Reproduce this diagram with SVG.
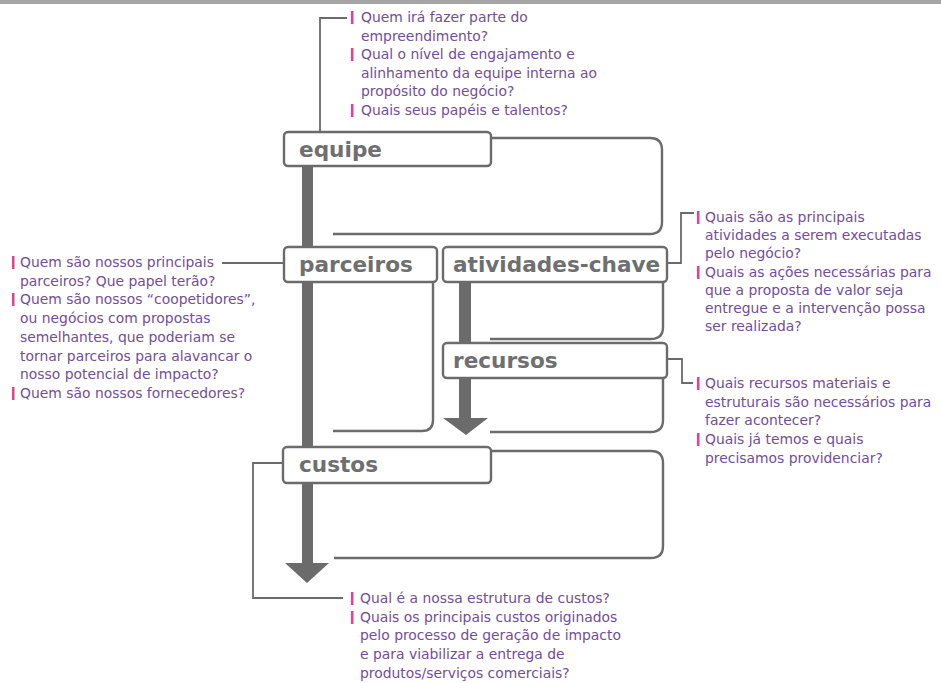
<svg xmlns="http://www.w3.org/2000/svg" width="941" height="683" viewBox="0 0 941 683">
<defs>
<style>
.box{fill:#fff;stroke:#6b6b6b;stroke-width:2.4}
.lbl{font-family:"DejaVu Sans",sans-serif;font-weight:bold;font-size:21.6px;fill:#6f6f6f}
.tail{fill:none;stroke:#6b6b6b;stroke-width:2.4}
.conn{fill:none;stroke:#6b6b6b;stroke-width:1.8}
.arrow{fill:#6b6b6b}
.q{font-family:"DejaVu Sans",sans-serif;font-size:13.9px;fill:#734d98}
.bar{fill:#e8408c}
</style>
</defs>
<rect x="0" y="0" width="941" height="4" fill="#a6a6a6"/>

<g id="connectors">
  <rect class="arrow" x="302" y="160" width="11" height="404"/>
  <polygon class="arrow" points="285,563 329,563 307,583"/>
  <rect class="arrow" x="459" y="282" width="12" height="137"/>
  <polygon class="arrow" points="443,418 488,418 466,435"/>
  <path class="tail" d="M491,138 H650 Q662,138 662,150 V222 Q662,234 650,234 H333"/>
  <path class="tail" d="M433,282 V420 Q433,431 422,431 H333"/>
  <path class="tail" d="M663,282 V327 Q663,339 651,339 H490"/>
  <path class="tail" d="M663,377 V420 Q663,432 651,432 H490"/>
  <path class="tail" d="M491,451 H651 Q663,451 663,463 V546 Q663,558 651,558 H334"/>
  <path class="conn" d="M320,132 V18 H347"/>
  <path class="conn" d="M284,263 H222"/>
  <path class="conn" d="M667,263 H681 V213 H694"/>
  <path class="conn" d="M667,359 H682 V383 H693"/>
  <path class="conn" d="M283,463 H253 V598 H343"/>
</g>

<g id="equipe">
  <rect class="box" x="284" y="132" width="207" height="34" rx="4"/>
  <text class="lbl" x="299" y="157">equipe</text>
</g>
<g id="parceiros">
  <rect class="box" x="284" y="247" width="153" height="35" rx="4"/>
  <text class="lbl" x="299" y="272">parceiros</text>
</g>
<g id="atividades-chave">
  <rect class="box" x="443" y="247" width="224" height="35" rx="4"/>
  <text class="lbl" x="453" y="272">atividades-chave</text>
</g>
<g id="recursos">
  <rect class="box" x="443" y="343" width="224" height="35" rx="4"/>
  <text class="lbl" x="453" y="368">recursos</text>
</g>
<g id="custos">
  <rect class="box" x="283" y="447" width="208" height="36" rx="4"/>
  <text class="lbl" x="299" y="472">custos</text>
</g>

<g id="notes-equipe">
  <rect class="bar" x="351" y="11" width="2.5" height="13"/>
  <rect class="bar" x="351" y="48" width="2.5" height="13"/>
  <rect class="bar" x="351" y="104" width="2.5" height="13"/>
  <text class="q">
    <tspan x="361" y="22">Quem irá fazer parte do</tspan>
    <tspan x="361" y="40.6">empreendimento?</tspan>
    <tspan x="361" y="59.2">Qual o nível de engajamento e</tspan>
    <tspan x="361" y="77.8">alinhamento da equipe interna ao</tspan>
    <tspan x="361" y="96.4">propósito do negócio?</tspan>
    <tspan x="361" y="115">Quais seus papéis e talentos?</tspan>
  </text>
</g>

<g id="notes-parceiros">
  <rect class="bar" x="12" y="256" width="2.5" height="13"/>
  <rect class="bar" x="12" y="293" width="2.5" height="13"/>
  <rect class="bar" x="12" y="387" width="2.5" height="13"/>
  <text class="q">
    <tspan x="20" y="267">Quem são nossos principais</tspan>
    <tspan x="20" y="285.7">parceiros? Que papel terão?</tspan>
    <tspan x="20" y="304.4">Quem são nossos “coopetidores”,</tspan>
    <tspan x="20" y="323.1">ou negócios com propostas</tspan>
    <tspan x="20" y="341.8">semelhantes, que poderiam se</tspan>
    <tspan x="20" y="360.5">tornar parceiros para alavancar o</tspan>
    <tspan x="20" y="379.2">nosso potencial de impacto?</tspan>
    <tspan x="20" y="398">Quem são nossos fornecedores?</tspan>
  </text>
</g>

<g id="notes-atividades">
  <rect class="bar" x="697" y="211" width="2.5" height="13"/>
  <rect class="bar" x="697" y="266" width="2.5" height="13"/>
  <text class="q">
    <tspan x="705" y="222">Quais são as principais</tspan>
    <tspan x="705" y="240.2">atividades a serem executadas</tspan>
    <tspan x="705" y="258.4">pelo negócio?</tspan>
    <tspan x="705" y="276.6">Quais as ações necessárias para</tspan>
    <tspan x="705" y="294.8">que a proposta de valor seja</tspan>
    <tspan x="705" y="313">entregue e a intervenção possa</tspan>
    <tspan x="705" y="331.2">ser realizada?</tspan>
  </text>
</g>

<g id="notes-recursos">
  <rect class="bar" x="697" y="377" width="2.5" height="13"/>
  <rect class="bar" x="697" y="433" width="2.5" height="13"/>
  <text class="q">
    <tspan x="705" y="388">Quais recursos materiais e</tspan>
    <tspan x="705" y="406.7">estruturais são necessários para</tspan>
    <tspan x="705" y="425.4">fazer acontecer?</tspan>
    <tspan x="705" y="444.2">Quais já temos e quais</tspan>
    <tspan x="705" y="463">precisamos providenciar?</tspan>
  </text>
</g>

<g id="notes-custos">
  <rect class="bar" x="351" y="592" width="2.5" height="13"/>
  <rect class="bar" x="351" y="611" width="2.5" height="13"/>
  <text class="q">
    <tspan x="360" y="603">Qual é a nossa estrutura de custos?</tspan>
    <tspan x="360" y="621.7">Quais os principais custos originados</tspan>
    <tspan x="360" y="640.4">pelo processo de geração de impacto</tspan>
    <tspan x="360" y="659.2">e para viabilizar a entrega de</tspan>
    <tspan x="360" y="678">produtos/serviços comerciais?</tspan>
  </text>
</g>
</svg>
